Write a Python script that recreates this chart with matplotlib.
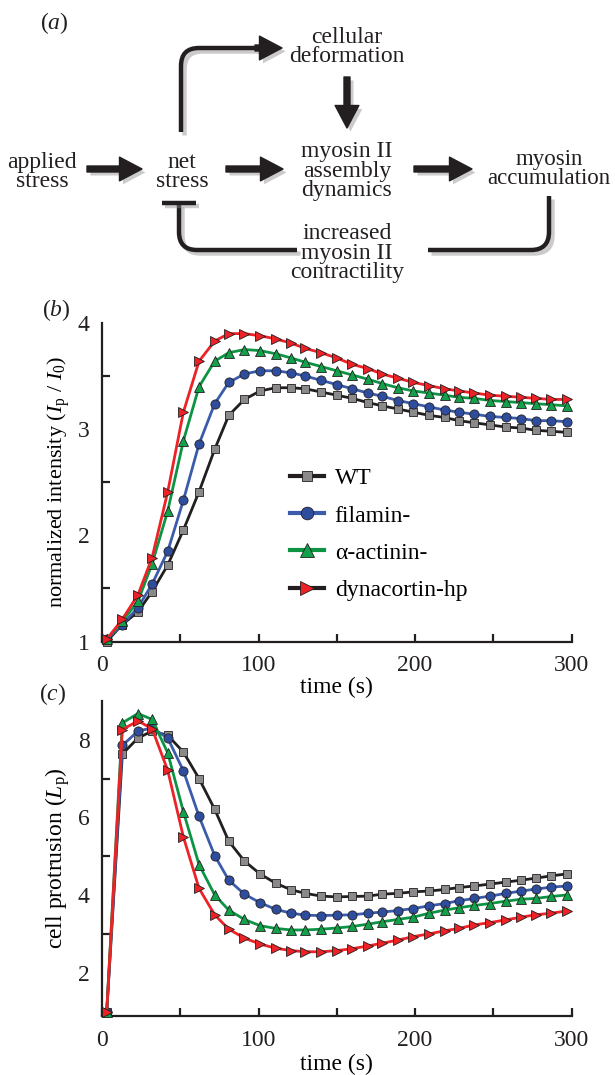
import numpy as np
import matplotlib
matplotlib.use("Agg")
import matplotlib.pyplot as plt
from matplotlib.patches import FancyArrowPatch, PathPatch, ArrowStyle
from matplotlib.path import Path
from matplotlib.lines import Line2D
import matplotlib.patheffects as pe

plt.rcParams['font.family'] = ['Liberation Serif', 'DejaVu Serif']
plt.rcParams['mathtext.fontset'] = 'custom'
plt.rcParams['mathtext.rm'] = 'Liberation Serif'
plt.rcParams['mathtext.it'] = 'Liberation Serif:italic'

# ---------------- data ----------------
time_s = [3, 13, 23, 32, 42, 52, 62, 72, 81, 91, 101, 111, 121, 130, 140, 150,
          160, 170, 179, 189, 199, 209, 219, 228, 238, 248, 258, 268, 277, 287, 297]

series_names = ["WT", "filamin-", "\u03b1-actinin-", "dynacortin-hp"]

# panel (b): normalized intensity Ip/I0
int_wt = [1.00, 1.16, 1.28, 1.47, 1.72, 2.05, 2.41, 2.81, 3.13, 3.28, 3.36, 3.39, 3.39, 3.38, 3.35, 3.32,
          3.29, 3.25, 3.22, 3.19, 3.16, 3.13, 3.11, 3.08, 3.06, 3.04, 3.02, 3.01, 2.99, 2.98, 2.97]
int_filamin = [1.02, 1.16, 1.32, 1.54, 1.85, 2.33, 2.86, 3.24, 3.44, 3.52, 3.55, 3.55, 3.53, 3.50, 3.46, 3.42,
               3.38, 3.34, 3.31, 3.27, 3.24, 3.21, 3.18, 3.16, 3.14, 3.12, 3.11, 3.10, 3.08, 3.08, 3.07]
int_actinin = [1.02, 1.19, 1.38, 1.73, 2.23, 2.89, 3.40, 3.64, 3.72, 3.75, 3.74, 3.71, 3.67, 3.63, 3.59, 3.55,
               3.51, 3.47, 3.43, 3.39, 3.36, 3.34, 3.32, 3.30, 3.29, 3.27, 3.26, 3.25, 3.24, 3.23, 3.22]
int_dyna = [1.02, 1.21, 1.44, 1.79, 2.41, 3.16, 3.64, 3.83, 3.90, 3.90, 3.88, 3.85, 3.81, 3.76, 3.72, 3.67,
            3.61, 3.57, 3.52, 3.48, 3.44, 3.41, 3.38, 3.36, 3.34, 3.32, 3.31, 3.30, 3.29, 3.28, 3.28]

# panel (c): cell protrusion Lp
lp_wt = [0.99, 7.63, 8.04, 8.22, 8.11, 7.68, 7.00, 6.21, 5.39, 4.88, 4.55, 4.31, 4.14, 4.05, 3.98, 3.96,
         3.97, 3.98, 4.03, 4.05, 4.09, 4.11, 4.15, 4.20, 4.24, 4.29, 4.34, 4.39, 4.44, 4.50, 4.55]
lp_filamin = [1.00, 7.85, 8.22, 8.30, 8.04, 7.20, 6.03, 5.02, 4.39, 4.03, 3.81, 3.64, 3.54, 3.49, 3.48, 3.49,
              3.50, 3.54, 3.57, 3.61, 3.66, 3.73, 3.79, 3.86, 3.92, 3.98, 4.05, 4.11, 4.16, 4.21, 4.24]
lp_actinin = [1.00, 8.43, 8.67, 8.52, 7.66, 6.15, 4.79, 4.01, 3.62, 3.38, 3.22, 3.15, 3.11, 3.11, 3.13, 3.16,
              3.20, 3.26, 3.32, 3.38, 3.44, 3.54, 3.62, 3.68, 3.74, 3.79, 3.85, 3.90, 3.92, 3.97, 4.01]
lp_dyna = [1.00, 8.26, 8.48, 8.28, 7.21, 5.50, 4.18, 3.50, 3.13, 2.90, 2.75, 2.64, 2.58, 2.55, 2.55, 2.58,
           2.63, 2.70, 2.77, 2.85, 2.94, 3.01, 3.09, 3.15, 3.24, 3.30, 3.37, 3.44, 3.50, 3.54, 3.60]

xticks = [0, 100, 200, 300]
yticks_b = [1, 2, 3, 4]
yticks_c = [2, 4, 6, 8]

# ---------------- styles ----------------
ink = "#231f20"
line_cols = [ink, "#3b5bab", "#0c9444", "#ec2227"]
face_cols = ["#8a8a8a", "#2f4d9e", "#12a04a", "#ec2227"]
legend_line_cols = [ink, "#3b5bab", "#0c9444", ink]
markers = ["s", "o", "^", ">"]
msizes = [5.2, 6.6, 7.0, 7.0]
FS = 17

W, H = 615, 1075
fig = plt.figure(figsize=(W / 100, H / 100), dpi=100)

# ---------------- panel (a): diagram ----------------
axa = fig.add_axes([0, 1 - 295 / H, 1, 295 / H])
axa.set_xlim(0, W)
axa.set_ylim(295, 0)
axa.axis("off")

shadow = [pe.SimplePatchShadow(offset=(2.5, -2.5), shadow_rgbFace="0.55", alpha=0.45), pe.Normal()]
lshadow = [pe.SimpleLineShadow(offset=(2.5, -2.5), shadow_color="0.55", alpha=0.45), pe.Normal()]

def label(x, y, s, fs=FS):
    axa.text(x, y, s, ha="center", va="center", fontsize=fs, linespacing=0.88, color=ink)

label(347, 47, "cellular\ndeformation")
label(42, 172, "applied\nstress")
label(182, 172, "net\nstress")
label(347, 171, "myosin II\nassembly\ndynamics")
label(549, 169, "myosin\naccumulation", fs=16.5)
label(347, 253, "increased\nmyosin II\ncontractility")
axa.text(54, 23, r"($a$)", ha="center", va="center", fontsize=FS, color=ink)

astyle = ArrowStyle("Simple", head_length=0.9, head_width=0.95, tail_width=0.24)

def arrow(p0, p1):
    a = FancyArrowPatch(p0, p1, arrowstyle=astyle, mutation_scale=18, color=ink,
                        shrinkA=0, shrinkB=0, path_effects=shadow)
    axa.add_patch(a)

arrow((87, 169), (142, 169))
arrow((226, 169), (283, 169))
arrow((414, 169), (472, 169))
arrow((347, 77), (347, 128))

# upper route: net stress -> cellular deformation
r = 18
verts = [(181, 132), (181, 48 + r), (181, 48), (181 + r, 48), (262, 48)]
codes = [Path.MOVETO, Path.LINETO, Path.CURVE3, Path.CURVE3, Path.LINETO]
axa.add_patch(PathPatch(Path(verts, codes), fill=False, lw=3.2, color=ink,
                        capstyle="butt", path_effects=lshadow))
arrow((255, 48), (282, 48))

# feedback route: myosin accumulation -> net stress (inhibitory bar)
verts = [(549, 196), (549, 250 - r), (549, 250), (549 - r, 250), (428, 250)]
axa.add_patch(PathPatch(Path(verts, codes), fill=False, lw=3.2, color=ink,
                        capstyle="butt", path_effects=lshadow))
verts = [(297, 250), (179 + r, 250), (179, 250), (179, 250 - r), (179, 204)]
axa.add_patch(PathPatch(Path(verts, codes), fill=False, lw=3.2, color=ink,
                        capstyle="butt", path_effects=lshadow))
axa.plot([162, 196], [203, 203], color=ink, lw=3.2, solid_capstyle="butt", path_effects=lshadow)

# ---------------- panels (b) and (c) ----------------
def style_axes(ax):
    for s in ["top", "right"]:
        ax.spines[s].set_visible(False)
    for s in ["left", "bottom"]:
        ax.spines[s].set_linewidth(1.6)
        ax.spines[s].set_color(ink)
    ax.tick_params(which="both", direction="in", width=1.6, color=ink,
                   labelsize=FS, labelcolor=ink)
    ax.set_xlim(0, 300)
    ax.set_xticks(xticks)
    ax.set_xticks([50, 150, 250], minor=True)
    ax.tick_params(axis="x", which="both", length=6, pad=10)

axb = fig.add_axes([102 / W, 1 - 641.5 / H, 469.5 / W, 318.5 / H])
intens = [int_wt, int_filamin, int_actinin, int_dyna]
for i, ys in enumerate(intens):
    axb.plot(time_s, ys, color=line_cols[i], lw=2.0, marker=markers[i], ms=msizes[i],
             mfc=face_cols[i], mec=ink, mew=0.6, zorder=3 + i, clip_on=False)
style_axes(axb)
axb.set_ylim(1, 4)
axb.set_yticks(yticks_b)
axb.set_yticks([1.5, 2.5, 3.5], minor=True)
axb.tick_params(axis="y", which="major", length=0, pad=9)
axb.tick_params(axis="y", which="minor", length=6)
axb.set_xlabel("time (s)", fontsize=FS, labelpad=0)
axb.set_ylabel(r"normalized intensity ($I_{\rm p}$ / $I_0$)", fontsize=16)
axb.yaxis.set_label_coords(-0.064, 0.5)

handles = [Line2D([], [], color=legend_line_cols[i], lw=3.0, marker=markers[i], ms=msizes[i] + 2.5,
                  mfc=face_cols[i], mec=ink, mew=0.6) for i in range(4)]
axb.legend(handles, series_names, loc="upper left", bbox_to_anchor=(0.40, 0.545),
           frameon=False, fontsize=FS, handlelength=1.45, handletextpad=0.45,
           labelspacing=0.66, borderpad=0, borderaxespad=0)
fig.text(56 / W, 1 - 310 / H, r"($b$)", ha="center", va="center", fontsize=FS, color=ink)

axc = fig.add_axes([102 / W, 1 - 1016 / H, 469.5 / W, 315.3 / H])
lps = [lp_wt, lp_filamin, lp_actinin, lp_dyna]
for i, ys in enumerate(lps):
    axc.plot(time_s, ys, color=line_cols[i], lw=2.0, marker=markers[i], ms=msizes[i],
             mfc=face_cols[i], mec=ink, mew=0.6, zorder=3 + i, clip_on=False)
style_axes(axc)
axc.set_ylim(0.9, 9.0)
axc.set_yticks(yticks_c)
axc.set_yticks([3, 5, 6, 7, 8], minor=True)
axc.tick_params(axis="y", which="major", length=0, pad=9)
axc.tick_params(axis="y", which="minor", length=6)
axc.set_xlabel("time (s)", fontsize=FS, labelpad=2)
axc.set_ylabel(r"cell protrusion ($L_{\rm p}$)", fontsize=FS)
axc.yaxis.set_label_coords(-0.064, 0.5)
fig.text(53 / W, 1 - 694 / H, r"($c$)", ha="center", va="center", fontsize=FS, color=ink)

fig.savefig("out.png", dpi=100)
